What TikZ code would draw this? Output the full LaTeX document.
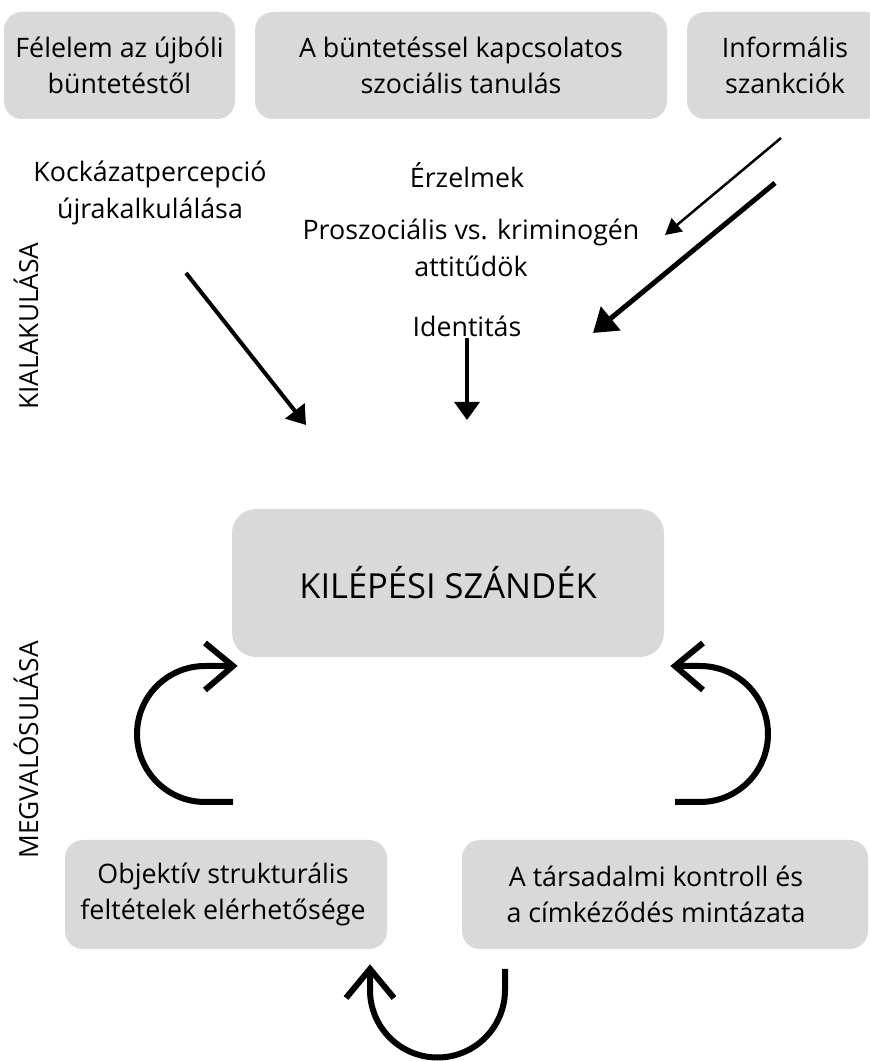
\documentclass[tikz,border=0pt]{standalone}
\usepackage{fontspec}
\setmainfont{Open Sans}
\usetikzlibrary{arrows.meta}
\definecolor{boxgray}{HTML}{D9D9D9}
\tikzset{
  gbox/.style={fill=boxgray, draw=none, rounded corners=18pt, align=center, inner sep=0pt, font=\fontsize{26.8}{36}\selectfont},
  bigbox/.style={fill=boxgray, draw=none, rounded corners=24pt, align=center, inner sep=0pt, font=\fontsize{34.5}{40}\selectfont},
  lbl/.style={align=center, inner sep=0pt, font=\fontsize{26.8}{37}\selectfont},
  side/.style={rotate=90, inner sep=0pt, font=\fontsize{26.3}{30}\selectfont},
  arrA/.style={-{Triangle[length=18pt,width=24pt]}, line width=4pt},
  arrB/.style={-{Triangle[length=18pt,width=25pt]}, line width=3.5pt},
  arrC/.style={-{Triangle[length=16pt,width=17pt]}, line width=2.5pt},
  arrD/.style={-{Triangle[length=23pt,width=30pt]}, line width=5pt},
  loop/.style={line width=6pt, line cap=butt, line join=miter},
}
\begin{document}
\begin{tikzpicture}[x=1pt,y=1pt]
\useasboundingbox (0,0) rectangle (870,1061);
\clip (0,0) rectangle (870,1061);
\fill[white] (0,0) rectangle (870,1061);

% top boxes
\node[gbox, minimum width=231pt, minimum height=107pt] (fel) at (119.5,995.5) {Félelem az újbóli\\büntetéstől};
\node[gbox, minimum width=412pt, minimum height=107pt] (bunt) at (461,995.5) {A büntetéssel kapcsolatos\\szociális tanulás};
\node[gbox, minimum width=196pt, minimum height=107pt] (inf) at (785,995.5) {Informális\\szankciók};

% free labels
\node[lbl] (kock) at (150,868) {Kockázatpercepció\\újrakalkulálása};
\node[lbl] (erz) at (467,886) {Érzelmek};
\node[lbl] (prosz) at (471,813) {Proszociális vs. kriminogén\\attitűdök};
\node[lbl] (ident) at (467,735) {Identitás};

% side labels
\node[side] (kial) at (26,735) {KIALAKULÁSA};
\node[side] (megv) at (26,311) {MEGVALÓSULÁSA};

% central box
\node[bigbox, minimum width=432pt, minimum height=148pt] (kil) at (448,478) {KILÉPÉSI SZÁNDÉK};

% bottom boxes
\node[gbox, minimum width=322pt, minimum height=109pt] (obj) at (226,166.5) {Objektív strukturális\hspace*{6pt}\\feltételek elérhetősége\hspace*{6pt}};
\node[gbox, minimum width=406pt, minimum height=109pt] (tars) at (665,166.5) {A társadalmi kontroll és\hspace*{18pt}\\a címkéződés mintázata\hspace*{18pt}};

% straight arrows
\coordinate (a1s) at (186,788);
\coordinate (a1e) at (306,636);
\draw[arrA] (a1s) -- (a1e);
\coordinate (a2s) at (467,723);
\coordinate (a2e) at (467,641);
\draw[arrB] (a2s) -- (a2e);
\coordinate (a3s) at (781,923);
\coordinate (a3e) at (665,826);
\draw[arrC] (a3s) -- (a3e);
\coordinate (a4s) at (775,878);
\coordinate (a4e) at (593,728);
\draw[arrD] (a4s) -- (a4e);

% left loop arrow
\coordinate (l1) at (233,259);
\coordinate (l2) at (233,395);
\draw[loop] (l1) -- (205,259) arc[start angle=270, end angle=90, radius=68] -- (l2);
\draw[loop] (205,418) -- (l2) -- (205,371);

% right loop arrow
\coordinate (r1) at (675,259);
\coordinate (r2) at (675,395);
\draw[loop] (r1) -- (700,259) arc[start angle=-90, end angle=90, radius=68] -- (r2);
\draw[loop] (703,418) -- (r2) -- (703,371);

% bottom loop arrow
\coordinate (b1) at (505,92);
\coordinate (b2) at (370,92);
\draw[loop] (b1) -- (505,71) arc[start angle=0, end angle=-180, radius=67.5] -- (b2);
\draw[loop] (346,63) -- (b2) -- (394,63);
\end{tikzpicture}
\end{document}
